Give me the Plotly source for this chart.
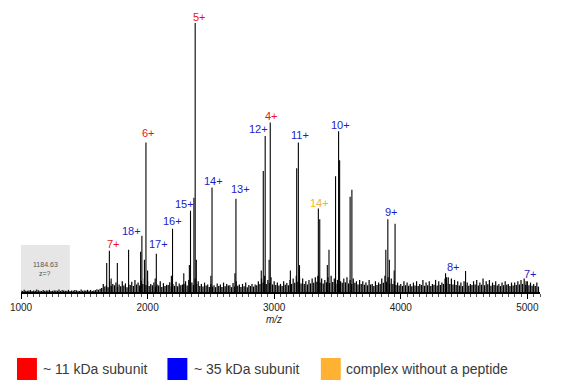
import plotly.graph_objects as go

# ---------------- data ----------------
# main peaks (m/z, relative intensity)
peak_mz = [1677, 1698, 1712, 1761, 1850, 1945, 1955, 1975, 1987, 2000,
           2060, 2069, 2188, 2197, 2286, 2330, 2339, 2366, 2376, 2385,
           2500, 2509, 2690, 2698, 2898, 2914, 2929, 2960, 2969,
           3128, 3178, 3191, 3200, 3345, 3349, 3360, 3420, 3433,
           3485, 3509, 3517, 3600, 3614, 3882, 3898, 3910, 3948, 3955,
           4354, 4362, 4512, 4990]
peak_int = [0.108, 0.153, 0.05, 0.108, 0.157, 0.15, 0.209, 0.12, 0.556, 0.08,
            0.05, 0.142, 0.06, 0.235, 0.07, 0.10, 0.302, 0.35, 1.0, 0.12,
            0.06, 0.388, 0.07, 0.347, 0.08, 0.45, 0.58, 0.12, 0.63,
            0.08, 0.46, 0.556, 0.10, 0.06, 0.31, 0.27, 0.10, 0.157,
            0.43, 0.597, 0.49, 0.354, 0.38, 0.157, 0.27, 0.12, 0.08, 0.254,
            0.07, 0.055, 0.078, 0.04]

# baseline noise, one value every 25 m/z from 1000 to 5075
noise_start, noise_step = 1000, 25
noise_int = [
    0.006, 0.008, 0.005, 0.007, 0.006, 0.009, 0.005, 0.007, 0.006, 0.008,
    0.005, 0.006, 0.009, 0.007, 0.005, 0.008, 0.006, 0.007, 0.005, 0.009,
    0.006, 0.008, 0.007, 0.006, 0.010, 0.012,
    0.030, 0.025, 0.040, 0.030, 0.035, 0.028, 0.040, 0.032, 0.030, 0.038,
    0.045, 0.035, 0.042, 0.050,
    0.040, 0.030, 0.035, 0.028, 0.040, 0.033, 0.027, 0.036, 0.030, 0.038,
    0.032, 0.028, 0.040, 0.045, 0.035, 0.050, 0.040, 0.030, 0.035, 0.028,
    0.030, 0.025, 0.032, 0.028, 0.035, 0.030, 0.025, 0.033, 0.040, 0.028,
    0.030, 0.035, 0.026, 0.030, 0.028, 0.040,
    0.050, 0.060, 0.045, 0.055, 0.040, 0.035, 0.030, 0.040, 0.033, 0.045,
    0.050, 0.060, 0.055, 0.050, 0.040, 0.045,
    0.050, 0.055, 0.060, 0.050, 0.045, 0.055, 0.060, 0.050, 0.045, 0.040,
    0.050, 0.055, 0.045, 0.050, 0.040, 0.045,
    0.040, 0.035, 0.045, 0.030, 0.040, 0.035, 0.050, 0.060, 0.055, 0.050,
    0.040, 0.035, 0.030, 0.040, 0.035, 0.030,
    0.035, 0.040, 0.030, 0.045, 0.035, 0.040, 0.030, 0.045, 0.040, 0.035,
    0.050, 0.055, 0.050, 0.045, 0.040, 0.035,
    0.040, 0.035, 0.030, 0.040, 0.045, 0.035, 0.050, 0.040, 0.045, 0.035,
    0.040, 0.030, 0.035, 0.040, 0.030, 0.035,
    0.035, 0.040, 0.045, 0.050, 0.040, 0.035, 0.030, 0.035,
]
noise_mz = [noise_start + i * noise_step for i in range(len(noise_int))]

# second set of noise sticks, midway between the first (1012.5 ... 5087.5)
noise2_start = 1012.5
noise2_int = [
    0.004, 0.005, 0.006, 0.004, 0.005, 0.006, 0.004, 0.005, 0.006, 0.004,
    0.006, 0.005, 0.004, 0.006, 0.005, 0.004, 0.005, 0.006, 0.004, 0.005,
    0.006, 0.005, 0.004, 0.007, 0.008, 0.015,
    0.020, 0.018, 0.022, 0.025, 0.019, 0.021, 0.024, 0.018, 0.026, 0.022,
    0.028, 0.024, 0.030, 0.026,
    0.022, 0.025, 0.020, 0.024, 0.019, 0.022, 0.026, 0.020, 0.023, 0.021,
    0.025, 0.030, 0.024, 0.028, 0.026, 0.030, 0.022, 0.020, 0.024, 0.019,
    0.020, 0.018, 0.022, 0.019, 0.021, 0.024, 0.018, 0.020, 0.023, 0.019,
    0.021, 0.018, 0.022, 0.020, 0.025, 0.030,
    0.035, 0.030, 0.033, 0.028, 0.026, 0.024, 0.022, 0.027, 0.025, 0.030,
    0.034, 0.038, 0.032, 0.030, 0.028, 0.032,
    0.034, 0.038, 0.035, 0.032, 0.036, 0.033, 0.037, 0.031, 0.029, 0.034,
    0.036, 0.032, 0.030, 0.034, 0.028, 0.030,
    0.027, 0.025, 0.028, 0.022, 0.026, 0.030, 0.034, 0.038, 0.032, 0.030,
    0.026, 0.024, 0.022, 0.025, 0.023, 0.021,
    0.024, 0.022, 0.026, 0.023, 0.025, 0.022, 0.027, 0.024, 0.026, 0.030,
    0.032, 0.030, 0.028, 0.026, 0.024, 0.022,
    0.025, 0.023, 0.026, 0.028, 0.024, 0.027, 0.025, 0.029, 0.023, 0.026,
    0.024, 0.022, 0.025, 0.027, 0.022, 0.024,
    0.026, 0.028, 0.030, 0.027, 0.025, 0.023, 0.022, 0.020,
]
noise2_mz = [noise2_start + i * noise_step for i in range(len(noise2_int))]

# charge-state labels
label_text = ["5+", "6+", "7+", "4+",
              "18+", "17+", "16+", "15+", "14+", "13+", "12+", "11+", "10+", "9+", "8+", "7+",
              "14+"]
label_group = ["11kDa"] * 4 + ["35kDa"] * 12 + ["complex"]
label_mz = [2409, 2008, 1732, 2976,
            1874, 2087, 2197, 2291, 2520, 2732, 2874, 3205, 3520, 3929, 4417, 5024,
            3362]
label_y = [1.022, 0.59, 0.179, 0.653,
           0.228, 0.179, 0.265, 0.328, 0.414, 0.381, 0.604, 0.582, 0.619, 0.299, 0.093, 0.067,
           0.332]

legend_names = ["~ 11 kDa subunit", "~ 35 kDa subunit", "complex without a peptide"]
legend_keys = ["11kDa", "35kDa", "complex"]

tick_vals = [1000, 2000, 3000, 4000, 5000]
tick_text = ["1000", "2000", "3000", "4000", "5000"]

# ---------------- styles ----------------
label_colors = {"11kDa": "#ee1018", "35kDa": "#1c1cc8", "complex": "#f2b22a"}
legend_colors = {"11kDa": "#ff0000", "35kDa": "#0000ff", "complex": "#ffb133"}
FONT = "Liberation Sans, Arial, sans-serif"

W, H = 566, 389
ML, MR, MT, MB = 19, 26, 10, 97
plot_w = W - ML - MR
plot_h = H - MT - MB


def px_x(px):
    return (px - ML) / plot_w


def px_y(py):
    return (H - MB - py) / plot_h


def sticks(mzs, ints):
    xs, ys = [], []
    for m, h in zip(mzs, ints):
        xs += [m, m, None]
        ys += [0, h, None]
    return xs, ys


fig = go.Figure()
nx2, ny2 = sticks(noise2_mz, noise2_int)
fig.add_trace(go.Scatter(x=nx2, y=ny2, mode="lines", line=dict(color="black", width=1.3),
                         hoverinfo="skip", showlegend=False))
nx, ny = sticks(noise_mz, noise_int)
fig.add_trace(go.Scatter(x=nx, y=ny, mode="lines", line=dict(color="black", width=1.2),
                         hoverinfo="skip", showlegend=False))
px_, py_ = sticks(peak_mz, peak_int)
fig.add_trace(go.Scatter(x=px_, y=py_, mode="lines", line=dict(color="black", width=1.1),
                         hoverinfo="skip", showlegend=False))

shapes = []
annotations = []

# grey inset box
shapes.append(dict(type="rect", xref="x", yref="paper", x0=993, x1=1386,
                   y0=0.005, y1=px_y(245), fillcolor="#e6e6e6", line=dict(width=0),
                   layer="below"))
annotations.append(dict(x=1190, y=px_y(270), xref="x", yref="paper", text="1184.63",
                        showarrow=False, font=dict(size=7, color="#555", family=FONT)))
annotations.append(dict(x=1190, y=px_y(279), xref="x", yref="paper", text="z=?",
                        showarrow=False, font=dict(size=7, color="#555", family=FONT)))

# charge labels
for t, g, m, y in zip(label_text, label_group, label_mz, label_y):
    annotations.append(dict(x=m, y=y, xref="x", yref="y", text=t, showarrow=False,
                            font=dict(size=11, color=label_colors[g], family=FONT)))

# axis title
annotations.append(dict(x=3000, y=0, xref="x", yref="paper", yanchor="top", yshift=-20,
                        text="<i>m/z</i>", showarrow=False,
                        font=dict(size=10, color="#222", family=FONT)))

# legend
sq_left = [15, 166, 320]
txt_left = [39, 191, 343]
for k, name, sl, tl in zip(legend_keys, legend_names, sq_left, txt_left):
    shapes.append(dict(type="rect", xref="paper", yref="paper",
                       x0=px_x(sl), x1=px_x(sl + 20), y0=px_y(380), y1=px_y(358),
                       fillcolor=legend_colors[k], line=dict(width=0)))
    annotations.append(dict(x=px_x(tl), y=px_y(369), xref="paper", yref="paper",
                            xanchor="left", yanchor="middle", text=name, showarrow=False,
                            font=dict(size=14, color="#3a3a3a", family=FONT)))

fig.update_layout(
    width=W, height=H,
    margin=dict(l=ML, r=MR, t=MT, b=MB, pad=0),
    paper_bgcolor="white", plot_bgcolor="white",
    shapes=shapes, annotations=annotations,
    xaxis=dict(range=[1000, 5100], showgrid=False, zeroline=False,
               showline=True, linecolor="black", linewidth=1.5,
               ticks="outside", ticklen=5, tickcolor="black", tickwidth=1,
               tickvals=tick_vals, ticktext=tick_text,
               tickfont=dict(size=10, color="#222", family=FONT),
               minor=dict(dtick=50, ticks="outside", ticklen=3, tickcolor="#555",
                          tickwidth=0.7, showgrid=False)),
    yaxis=dict(range=[0, 1.048], visible=False, showgrid=False, zeroline=False),
)

fig.write_html("out.html", config={"displayModeBar": False},
               post_script="document.body.style.margin='0';document.body.style.overflow='hidden';")
